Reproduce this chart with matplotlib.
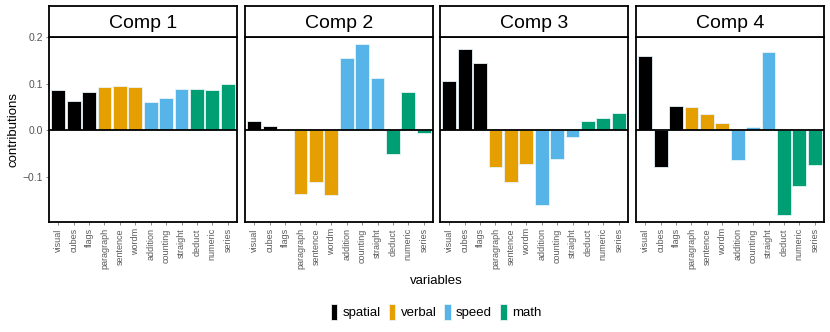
import numpy as np
import matplotlib
matplotlib.use('Agg')
import matplotlib.pyplot as plt
from matplotlib.patches import Patch

plt.rcParams['font.family'] = ['Liberation Sans', 'DejaVu Sans']

# Data
variables = ['visual', 'cubes', 'flags', 'paragraph', 'sentence', 'wordm',
             'addition', 'counting', 'straight', 'deduct', 'numeric', 'series']
groups = ['spatial'] * 3 + ['verbal'] * 3 + ['speed'] * 3 + ['math'] * 3
group_names = ['spatial', 'verbal', 'speed', 'math']
group_colors = {'spatial': '#000000', 'verbal': '#E69F00',
                'speed': '#56B4E9', 'math': '#009E73'}
comps = ['Comp 1', 'Comp 2', 'Comp 3', 'Comp 4']

comp1 = [0.086, 0.063, 0.083, 0.093, 0.094, 0.093, 0.061, 0.070, 0.088, 0.089, 0.087, 0.099]
comp2 = [0.020, 0.009, 0.001, -0.136, -0.111, -0.139, 0.154, 0.184, 0.113, -0.052, 0.081, -0.006]
comp3 = [0.106, 0.174, 0.145, -0.079, -0.111, -0.073, -0.160, -0.061, -0.014, 0.019, 0.026, 0.036]
comp4 = [0.159, -0.080, 0.053, 0.049, 0.035, 0.016, -0.065, 0.006, 0.168, -0.181, -0.120, -0.074]
contributions = [comp1, comp2, comp3, comp4]

W, H = 830, 332
fig = plt.figure(figsize=(W / 100, H / 100), dpi=100)

# panel placement in pixels
lefts = [49, 245, 440, 636]
pw = 188
top, bottom = 37, 222
strip_top = 6

x = np.arange(len(variables))
colors = [group_colors[g] for g in groups]

for i, (name, vals) in enumerate(zip(comps, contributions)):
    ax = fig.add_axes([lefts[i] / W, 1 - bottom / H, pw / W, (bottom - top) / H])
    ax.bar(x, vals, width=0.9, color=colors, edgecolor='#e8f4f8', linewidth=0.6, zorder=2)
    ax.axhline(0, color='black', linewidth=1.3, zorder=3)
    ax.set_xlim(-0.6, len(variables) - 0.4)
    ax.set_ylim(-0.197, 0.2)
    ax.set_xticks(x)
    ax.set_xticklabels(variables, rotation=90, fontsize=6.5, color='#5a5a5a')
    ax.tick_params(axis='x', length=2.5, width=0.5, color='#5a5a5a', pad=2)
    ax.set_yticks([-0.1, 0.0, 0.1, 0.2])
    if i == 0:
        ax.set_yticklabels(['\u22120.1', '0.0', '0.1', '0.2'], fontsize=7.5, color='#555555')
        ax.tick_params(axis='y', length=2.5, width=0.5, color='#555555', pad=2)
        ax.set_ylabel('contributions', fontsize=9.5, labelpad=2)
    else:
        ax.tick_params(axis='y', left=False, labelleft=False)
    for s in ax.spines.values():
        s.set_linewidth(1.3)
        s.set_color('black')

    # facet strip
    sax = fig.add_axes([lefts[i] / W, 1 - top / H, pw / W, (top - strip_top) / H])
    sax.set_xticks([])
    sax.set_yticks([])
    for s in sax.spines.values():
        s.set_linewidth(1.3)
    sax.text(0.5, 0.45, name, ha='center', va='center', fontsize=14, transform=sax.transAxes)

fig.text((49 + 824) / 2 / W, 1 - 281 / H, 'variables', ha='center', va='center', fontsize=9.5)

handles = [Patch(facecolor=group_colors[g], edgecolor='#e8f4f8', linewidth=0.6) for g in group_names]
fig.legend(handles, group_names, loc='center', bbox_to_anchor=(436 / W, 1 - 312 / H),
           ncol=4, frameon=False, fontsize=9.5, handlelength=0.5, handleheight=1.4,
           handletextpad=0.4, columnspacing=0.6)

fig.savefig('out.png', dpi=100)
